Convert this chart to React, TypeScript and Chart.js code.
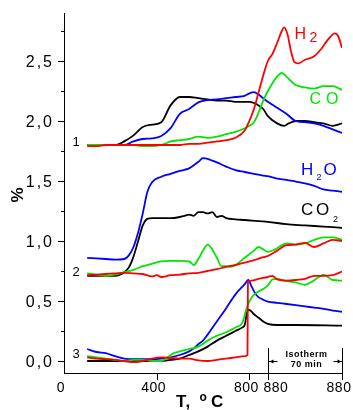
import React, { useEffect, useRef } from "react";
import { Chart, registerables } from "chart.js";

Chart.register(...registerables);

// x values: temperature T (0..880 °C); beyond 880 the isotherm (70 min) stretch mapped to 880..1200
const X_TICK_VALUES = [0, 400, 800, 880, 1200];
const X_TICK_LABELS = ["0", "400", "800", "880", "880"];
const Y_TICK_VALUES = [0, 0.25, 0.5, 0.75, 1.0, 1.25, 1.5, 1.75, 2.0, 2.25, 2.5, 2.75];
const Y_LABEL_VALUES = [0, 0.5, 1.0, 1.5, 2.0, 2.5];

// Curve set 1
const H2_1 = [[100,1.79],[140,1.79],[180,1.80],[220,1.80],[260,1.80],[300,1.80],[340,1.80],[380,1.80],[420,1.80],[460,1.80],[500,1.80],[540,1.81],[580,1.81],[620,1.82],[660,1.83],[700,1.84],[740,1.86],[780,1.92],[800,2.00],[820,2.10],[840,2.24],[860,2.38],[880,2.50],[900,2.56],[920,2.65],[940,2.75],[950,2.78],[965,2.72],[980,2.58],[995,2.49],[1010,2.48],[1040,2.51],[1080,2.54],[1110,2.60],[1140,2.68],[1170,2.73],[1185,2.70],[1200,2.61]];
const CO_1 = [[100,1.80],[140,1.80],[180,1.80],[220,1.80],[260,1.80],[300,1.80],[340,1.79],[380,1.79],[420,1.80],[460,1.83],[500,1.84],[540,1.85],[580,1.87],[620,1.86],[660,1.87],[700,1.89],[740,1.91],[780,1.94],[800,1.96],[820,1.99],[840,2.07],[860,2.17],[880,2.25],[920,2.37],[940,2.40],[960,2.37],[1000,2.30],[1040,2.28],[1080,2.27],[1120,2.29],[1160,2.29],[1200,2.26]];
const H2O_1 = [[100,1.80],[140,1.80],[180,1.80],[220,1.80],[260,1.80],[300,1.83],[340,1.85],[380,1.855],[420,1.875],[460,1.94],[500,2.06],[540,2.10],[580,2.155],[620,2.175],[660,2.18],[700,2.19],[740,2.20],[780,2.21],[800,2.23],[820,2.24],[840,2.22],[860,2.19],[880,2.16],[920,2.11],[960,2.06],[1000,2.00],[1040,1.99],[1080,1.98],[1120,1.96],[1160,1.93],[1200,1.90]];
const CO2_1 = [[100,1.80],[140,1.80],[180,1.80],[220,1.80],[260,1.83],[300,1.88],[340,1.95],[380,1.97],[420,1.99],[460,2.13],[500,2.20],[540,2.20],[580,2.19],[620,2.18],[660,2.17],[700,2.17],[740,2.16],[780,2.16],[800,2.16],[820,2.15],[840,2.13],[860,2.10],[880,2.04],[920,1.98],[950,1.96],[970,1.98],[1000,2.00],[1040,2.00],[1080,1.99],[1120,1.98],[1160,1.96],[1200,1.98]];

// Curve set 2
const H2_2 = [[100,0.715],[140,0.72],[180,0.725],[220,0.73],[260,0.735],[300,0.73],[340,0.725],[380,0.705],[400,0.715],[420,0.70],[460,0.715],[500,0.72],[540,0.73],[580,0.735],[620,0.75],[660,0.765],[700,0.785],[740,0.80],[780,0.82],[820,0.84],[860,0.865],[880,0.875],[920,0.92],[960,0.965],[1000,0.97],[1040,0.985],[1080,0.95],[1120,0.98],[1160,1.01],[1200,1.0]];
const CO_2 = [[100,0.73],[140,0.72],[180,0.71],[220,0.72],[260,0.74],[300,0.76],[340,0.79],[380,0.81],[420,0.83],[460,0.835],[500,0.835],[540,0.83],[560,0.80],[580,0.85],[600,0.92],[620,0.97],[640,0.93],[660,0.86],[680,0.79],[700,0.79],[720,0.785],[740,0.80],[780,0.86],[820,0.92],[840,0.95],[860,0.93],[880,0.91],[920,0.94],[960,0.98],[1000,0.97],[1040,0.98],[1080,1.01],[1120,1.03],[1160,1.03],[1200,1.01]];
const H2O_2 = [[100,0.86],[140,0.855],[180,0.85],[220,0.845],[260,0.85],[280,0.88],[300,0.95],[320,1.07],[340,1.23],[360,1.41],[380,1.49],[420,1.535],[460,1.56],[500,1.585],[540,1.605],[580,1.66],[600,1.69],[620,1.685],[640,1.67],[660,1.655],[700,1.62],[740,1.59],[780,1.575],[820,1.56],[860,1.545],[880,1.54],[920,1.52],[960,1.51],[1000,1.495],[1040,1.48],[1080,1.46],[1120,1.43],[1160,1.42],[1200,1.41]];
const CO2_2 = [[100,0.71],[140,0.71],[180,0.71],[220,0.71],[260,0.74],[280,0.78],[300,0.87],[320,1.00],[340,1.13],[360,1.185],[380,1.19],[420,1.19],[460,1.19],[500,1.20],[520,1.21],[540,1.22],[560,1.21],[580,1.24],[600,1.24],[620,1.23],[640,1.24],[660,1.20],[680,1.21],[700,1.19],[740,1.18],[780,1.175],[840,1.165],[880,1.16],[960,1.14],[1040,1.13],[1120,1.12],[1200,1.11]];

// Curve set 3
const H2_3 = [[100,0.03],[140,0.02],[180,0.015],[220,0.01],[260,0.0],[300,-0.01],[340,0.0],[380,0.02],[420,0.03],[460,0.025],[500,0.02],[540,0.02],[580,0.005],[620,0.0],[660,0.01],[700,0.02],[740,0.03],[780,0.04],[792,0.05],[794,0.66],[810,0.67],[840,0.685],[880,0.70],[900,0.71],[920,0.68],[960,0.67],[1000,0.675],[1040,0.685],[1080,0.71],[1120,0.71],[1160,0.715],[1200,0.745]];
const CO_3 = [[100,0.04],[140,0.03],[180,0.02],[220,0.01],[260,0.0],[300,0.01],[340,0.01],[380,0.0],[420,0.0],[440,0.02],[460,0.05],[480,0.07],[500,0.08],[540,0.10],[580,0.12],[620,0.17],[660,0.21],[700,0.24],[740,0.28],[770,0.32],[790,0.45],[810,0.53],[840,0.58],[860,0.60],[880,0.63],[900,0.68],[920,0.685],[960,0.665],[1000,0.655],[1040,0.635],[1070,0.66],[1100,0.70],[1120,0.72],[1160,0.675],[1200,0.67]];
const H2O_3 = [[100,0.10],[140,0.075],[180,0.065],[220,0.04],[260,0.02],[300,0.015],[340,0.015],[380,0.015],[420,0.02],[460,0.03],[500,0.05],[540,0.08],[560,0.105],[580,0.14],[600,0.17],[620,0.22],[660,0.33],[700,0.44],[740,0.555],[780,0.64],[795,0.675],[810,0.62],[830,0.55],[860,0.51],[880,0.495],[920,0.485],[960,0.475],[1000,0.465],[1040,0.455],[1080,0.445],[1120,0.435],[1160,0.42],[1200,0.41]];
const CO2_3 = [[100,0.0],[140,0.0],[180,0.0],[220,0.0],[260,0.0],[300,0.0],[340,0.0],[380,0.0],[420,0.0],[460,0.01],[500,0.02],[540,0.05],[580,0.08],[620,0.12],[660,0.17],[700,0.21],[740,0.25],[770,0.28],[780,0.30],[792,0.42],[800,0.425],[820,0.39],[840,0.36],[860,0.33],[880,0.31],[920,0.30],[1000,0.30],[1200,0.295]];

const RED = "#ff0000";
const GREEN = "#00e600";
const BLUE = "#0000ff";
const BLACK = "#000000";
const FONT = '"Liberation Sans", Arial, sans-serif';

const SERIES = [
  { data: H2_1, color: RED }, { data: H2_2, color: RED }, { data: H2_3, color: RED },
  { data: CO_1, color: GREEN }, { data: CO_2, color: GREEN }, { data: CO_3, color: GREEN },
  { data: H2O_1, color: BLUE }, { data: H2O_2, color: BLUE }, { data: H2O_3, color: BLUE },
  { data: CO2_1, color: BLACK }, { data: CO2_2, color: BLACK }, { data: CO2_3, color: BLACK },
];

function txt(ctx: any, s: string, x: number, y: number, font: string, color: string, align: string = "left", spacing: string = "0px", baseline: string = "alphabetic") {
  ctx.font = font;
  ctx.fillStyle = color;
  ctx.textAlign = align;
  ctx.textBaseline = baseline;
  ctx.letterSpacing = spacing;
  ctx.fillText(s, x, y);
  ctx.letterSpacing = "0px";
}

const decorations = {
  id: "decorations",
  afterDraw(chart: any) {
    const { ctx } = chart;
    const xs = chart.scales.x;
    const ys = chart.scales.y;
    const x0 = Math.round(xs.getPixelForValue(0));
    const xEnd = Math.round(xs.getPixelForValue(1200));
    const yBot = Math.round(ys.getPixelForValue(-0.1));
    const yTop = Math.round(ys.getPixelForValue(2.9));
    ctx.save();
    ctx.strokeStyle = "#000";
    ctx.lineWidth = 1;
    // axis lines
    ctx.beginPath();
    ctx.moveTo(x0 + 0.5, yTop);
    ctx.lineTo(x0 + 0.5, yBot + 1);
    ctx.moveTo(x0, yBot + 0.5);
    ctx.lineTo(xEnd + 1, yBot + 0.5);
    ctx.stroke();
    // y ticks
    ctx.beginPath();
    Y_TICK_VALUES.forEach((v) => {
      const py = Math.round(ys.getPixelForValue(v)) + 0.5;
      const major = Math.abs(v * 2 - Math.round(v * 2)) < 1e-6;
      ctx.moveTo(x0 - (major ? 6 : 3), py);
      ctx.lineTo(x0, py);
    });
    // x ticks
    X_TICK_VALUES.forEach((v) => {
      if (v === 0) return;
      const px = Math.round(xs.getPixelForValue(v)) + 0.5;
      ctx.moveTo(px, yBot);
      ctx.lineTo(px, yBot + 7);
    });
    ctx.stroke();
    // y labels
    Y_LABEL_VALUES.forEach((v) => {
      const py = ys.getPixelForValue(v);
      txt(ctx, v.toFixed(1).replace(".", ","), x0 - 10, py + 5.5, `16px ${FONT}`, "#000", "right", "2px");
    });
    // x labels
    const xOff = [-3, -3, -3, 8, -3];
    X_TICK_VALUES.forEach((v, i) => {
      const px = xs.getPixelForValue(v) + xOff[i];
      txt(ctx, X_TICK_LABELS[i], px, yBot + 19, `14px ${FONT}`, "#000", "center", "0.5px");
    });
    // axis titles
    ctx.save();
    ctx.translate(18, 195);
    ctx.rotate(-Math.PI / 2);
    txt(ctx, "%", 0, 0, `bold 17px ${FONT}`, "#000", "center", "0px", "middle");
    ctx.restore();
    txt(ctx, "T,", 176, 407, `bold 17px ${FONT}`, "#000", "left", "1px");
    txt(ctx, "o", 199.5, 401, `bold 12px ${FONT}`, "#000", "left");
    txt(ctx, "C", 211, 407, `bold 17px ${FONT}`, "#000", "left");
    // group numbers
    const gx = xs.getPixelForValue(52);
    txt(ctx, "1", gx, ys.getPixelForValue(1.82), `13px ${FONT}`, "#000", "center", "0px", "middle");
    txt(ctx, "2", gx, ys.getPixelForValue(0.74), `13px ${FONT}`, "#000", "center", "0px", "middle");
    txt(ctx, "3", gx, ys.getPixelForValue(0.053), `13px ${FONT}`, "#000", "center", "0px", "middle");
    // series labels
    txt(ctx, "H", 294.5, 38.5, `16px ${FONT}`, RED);
    txt(ctx, "2", 309.5, 42, `14px ${FONT}`, RED);
    txt(ctx, "C", 309.5, 104, `16px ${FONT}`, GREEN, "left", "4px");
    txt(ctx, "O", 326, 104, `16px ${FONT}`, GREEN);
    txt(ctx, "H", 301, 174.5, `17px ${FONT}`, BLUE);
    txt(ctx, "2", 316.5, 180, `9px ${FONT}`, BLUE);
    txt(ctx, "O", 323.5, 174.5, `17px ${FONT}`, BLUE);
    txt(ctx, "C", 301, 215, `17px ${FONT}`, BLACK);
    txt(ctx, "O", 316, 215, `17px ${FONT}`, BLACK);
    txt(ctx, "2", 333, 221.5, `9px ${FONT}`, BLACK);
    // isotherm annotation
    const xa = Math.round(xs.getPixelForValue(880)) + 0.5;
    const xb = Math.round(xs.getPixelForValue(1200)) + 0.5;
    const ya = 361.5;
    ctx.beginPath();
    ctx.moveTo(xa, 348);
    ctx.lineTo(xa, yBot);
    ctx.moveTo(xb, 348);
    ctx.lineTo(xb, yBot);
    ctx.moveTo(xa, ya);
    ctx.lineTo(xa + 9, ya);
    ctx.moveTo(xb - 9, ya);
    ctx.lineTo(xb, ya);
    ctx.stroke();
    ctx.fillStyle = "#000";
    ctx.beginPath();
    ctx.moveTo(xa + 1, ya);
    ctx.lineTo(xa + 5, ya - 2);
    ctx.lineTo(xa + 5, ya + 2);
    ctx.closePath();
    ctx.moveTo(xb - 1, ya);
    ctx.lineTo(xb - 5, ya - 2);
    ctx.lineTo(xb - 5, ya + 2);
    ctx.closePath();
    ctx.fill();
    const xc = (xa + xb) / 2;
    txt(ctx, "Isotherm", xc + 1, 357, `bold 9px ${FONT}`, "#000", "center", "0.5px");
    txt(ctx, "70 min", xc + 1, 366.5, `bold 9px ${FONT}`, "#000", "center", "0.5px");
    ctx.restore();
  },
};

export default function App() {
  const ref = useRef<HTMLCanvasElement>(null);
  useEffect(() => {
    if (!ref.current) return;
    const chart = new Chart(ref.current, {
      type: "line",
      data: {
        datasets: SERIES.map((s) => ({
          data: s.data.map(([x, y]) => ({ x, y })),
          borderColor: s.color,
          backgroundColor: s.color,
          borderWidth: 1.8,
          pointRadius: 0,
          fill: false,
          cubicInterpolationMode: "monotone" as const,
        })),
      },
      options: {
        responsive: false,
        animation: false,
        layout: { padding: { left: 64, top: 13, right: 11, bottom: 37 } },
        scales: {
          x: { type: "linear", display: false, min: 0, max: 1200 },
          y: { type: "linear", display: false, min: -0.1, max: 2.9 },
        },
        plugins: { legend: { display: false }, tooltip: { enabled: false } },
      },
      plugins: [decorations],
    });
    return () => chart.destroy();
  }, []);
  return (
    <div style={{ position: "absolute", left: 0, top: 0, width: 353, height: 410, background: "#fff" }}>
      <canvas ref={ref} width={353} height={410} />
    </div>
  );
}
